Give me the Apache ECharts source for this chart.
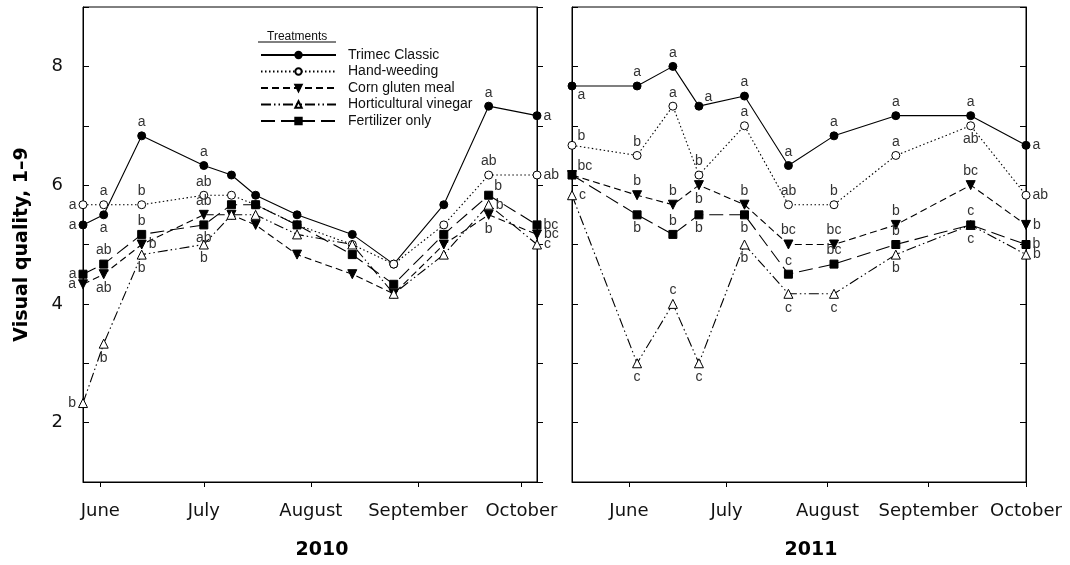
<!DOCTYPE html>
<html>
<head>
<meta charset="utf-8">
<script src="https://cdn.jsdelivr.net/npm/echarts@6/dist/echarts.min.js"></script>
<style>html,body{margin:0;padding:0;background:#fff;}#chart{width:1070px;height:565px;}</style>
</head>
<body>
<div id="chart"></div>
<script>
// ---------- data ----------
const treatments = ['Trimec Classic', 'Hand-weeding', 'Corn gluten meal', 'Horticultural vinegar', 'Fertilizer only'];
const monthTicks = [152, 182, 213, 244, 274];           // day-of-year of month starts
const monthLabels = ['June', 'July', 'August', 'September', 'October'];
const yearLabels = ['2010', '2011'];

const days2010 = [147, 153, 164, 182, 190, 197, 209, 225, 237, 251.5, 264.5, 278.5];
const trimec2010 = [5.33, 5.5, 6.83, 6.33, 6.17, 5.83, 5.5, 5.17, 4.67, 5.67, 7.33, 7.17];
const hand2010 = [5.67, 5.67, 5.67, 5.83, 5.83, 5.67, 5.33, 5.0, 4.67, 5.33, 6.17, 6.17];
const corn2010 = [4.33, 4.5, 5.0, 5.5, 5.5, 5.33, 4.83, 4.5, 4.17, 5.0, 5.5, 5.17];
const vinegar2010 = [2.33, 3.33, 4.83, 5.0, 5.5, 5.5, 5.17, 5.0, 4.17, 4.83, 5.67, 5.0];
const fert2010 = [4.5, 4.67, 5.17, 5.33, 5.67, 5.67, 5.33, 4.83, 4.33, 5.17, 5.83, 5.33];

const days2011 = [134.5, 154.5, 165.5, 173.5, 187.5, 201, 215, 234, 257, 274];
const trimec2011 = [7.67, 7.67, 8.0, 7.33, 7.5, 6.33, 6.83, 7.17, 7.17, 6.67];
const hand2011 = [6.67, 6.5, 7.33, 6.17, 7.0, 5.67, 5.67, 6.5, 7.0, 5.83];
const corn2011 = [6.17, 5.83, 5.67, 6.0, 5.67, 5.0, 5.0, 5.33, 6.0, 5.33];
const vinegar2011 = [5.83, 3.0, 4.0, 3.0, 5.0, 4.17, 4.17, 4.83, 5.33, 4.83];
const fert2011 = [6.17, 5.5, 5.17, 5.5, 5.5, 4.5, 4.67, 5.0, 5.33, 5.0];

// significance letters
const trimecLet2010 = ['a', 'a', 'a', 'a', '', '', '', '', '', '', 'a', 'a'];
const handLet2010 = ['a', 'a', 'b', 'ab', '', '', '', '', '', '', 'ab', 'ab'];
const cornLet2010 = ['a', 'ab', 'b', 'ab', '', '', '', '', '', '', 'b', 'bc'];
const vinegarLet2010 = ['b', 'b', 'b', 'b', '', '', '', '', '', '', 'b', 'c'];
const fertLet2010 = ['a', 'ab', 'b', 'ab', '', '', '', '', '', '', 'b', 'bc'];

const trimecLet2011 = ['a', 'a', 'a', 'a', 'a', 'a', 'a', 'a', 'a', 'a'];
const handLet2011 = ['b', 'b', 'a', 'b', 'a', 'ab', 'b', 'a', 'ab', 'ab'];
const cornLet2011 = ['', 'b', 'b', 'b', 'b', 'bc', 'bc', 'b', 'bc', 'b'];
const vinegarLet2011 = ['c', 'c', 'c', 'c', 'b', 'c', 'c', 'b', 'c', 'b'];
const fertLet2011 = ['bc', 'b', 'b', 'b', 'b', 'c', 'bc', 'b', 'c', 'b'];

// letter placement (layout, kept apart from values)
const trimecPos2010 = ['left', 'bottom', 'top', 'top', '', '', '', '', '', '', 'top', 'right'];
const handPos2010 = ['left', 'top', 'top', 'top', '', '', '', '', '', '', 'top', 'right'];
const cornPos2010 = ['left', 'bottom', 'right', 'top', '', '', '', '', '', '', 'bottom', 'right'];
const vinegarPos2010 = ['left', 'bottom', 'bottom', 'bottom', '', '', '', '', '', '', 'right', 'right'];
const fertPos2010 = ['left', 'top', 'top', 'bottom', '', '', '', '', '', '', 'tr', 'right'];

const trimecPos2011 = ['br', 'top', 'top', 'tr', 'top', 'top', 'top', 'top', 'top', 'right'];
const handPos2011 = ['tr', 'top', 'top', 'top', 'top', 'top', 'top', 'top', 'bottom', 'right'];
const cornPos2011 = ['', 'top', 'top', 'bottom', 'top', 'top', 'top', 'top', 'top', 'right'];
const vinegarPos2011 = ['right', 'bottom', 'top', 'bottom', 'bottom', 'bottom', 'bottom', 'bottom', 'bottom', 'right'];
const fertPos2011 = ['tr', 'bottom', 'top', 'bottom', 'bottom', 'top', 'top', 'top', 'top', 'right'];

// ---------- styles ----------
const styles = [
  { symbol: 'circle', size: 8, fill: '#000', dash: 'solid', rot: 0 },
  { symbol: 'circle', size: 8, fill: '#fff', dash: [1.5, 2.5], rot: 0 },
  { symbol: 'triangle', size: 9, fill: '#000', dash: [7, 4], rot: 180 },
  { symbol: 'triangle', size: 9, fill: '#fff', dash: [10, 3, 1.5, 3, 1.5, 3], rot: 0 },
  { symbol: 'rect', size: 8, fill: '#000', dash: [14, 6], rot: 0 }
];

const letterFont = { fontFamily: 'Liberation Sans, Arial, sans-serif', fontSize: 14, color: '#333' };

function labelFor(letter, pos) {
  if (!letter) return { show: false };
  const base = Object.assign({ show: true, formatter: letter }, letterFont);
  if (pos === 'tr') return Object.assign(base, { position: 'right', distance: 1, offset: [0, -9] });
  if (pos === 'br') return Object.assign(base, { position: 'right', distance: 1, offset: [0, 9] });
  return Object.assign(base, { position: pos, distance: 2 });
}

function makeSeries(idx, gridIdx, days, vals, letters, pos) {
  const st = styles[idx];
  return {
    name: treatments[idx],
    type: 'line',
    xAxisIndex: gridIdx,
    yAxisIndex: gridIdx * 2,
    symbol: st.symbol,
    symbolSize: st.size,
    symbolRotate: st.rot,
    showAllSymbol: true,
    animation: false,
    z: 2 + idx,
    lineStyle: { color: '#000', width: 1.1, type: st.dash },
    itemStyle: { color: st.fill, borderColor: '#000', borderWidth: 1 },
    emphasis: { disabled: true },
    data: days.map((d, i) => ({ value: [d, vals[i]], label: labelFor(letters[i], pos[i]) }))
  };
}

const tickFont = { fontFamily: 'DejaVu Sans, sans-serif', fontSize: 18, color: '#111' };

function xAxisFor(gridIdx, min, max) {
  return {
    type: 'value', gridIndex: gridIdx, min: min, max: max,
    name: yearLabels[gridIdx], nameLocation: 'middle', nameGap: 59,
    nameTextStyle: { fontFamily: 'DejaVu Sans, sans-serif', fontSize: 19, fontWeight: 'bold', color: '#000', padding: [0, 0, 0, 24] },
    axisLine: { show: true, lineStyle: { color: '#000', width: 1 } },
    axisTick: { show: true, inside: false, length: 5, customValues: monthTicks, lineStyle: { color: '#000' } },
    axisLabel: Object.assign({ customValues: monthTicks, margin: 20,
      formatter: v => monthLabels[monthTicks.indexOf(Math.round(v))] || '' }, tickFont),
    splitLine: { show: false }
  };
}

function yAxisFor(gridIdx, position, labels, inside) {
  const ax = {
    type: 'value', gridIndex: gridIdx, position: position, min: 1, max: 9, interval: 1,
    axisLine: { show: true, onZero: false, lineStyle: { color: '#000', width: 1 } },
    axisTick: { show: true, inside: inside, length: 6, lineStyle: { color: '#000' } },
    axisLabel: Object.assign({ show: labels, margin: 20, formatter: v => (v % 2 === 0 ? String(v) : '') }, tickFont),
    splitLine: { show: false }
  };
  if (labels) {
    ax.name = 'Visual quality, 1\u20139';
    ax.nameLocation = 'middle';
    ax.nameGap = 51;
    ax.nameTextStyle = { fontFamily: 'DejaVu Sans, sans-serif', fontSize: 19, fontWeight: 'bold', color: '#000' };
  }
  return ax;
}

const series = [
  makeSeries(0, 0, days2010, trimec2010, trimecLet2010, trimecPos2010),
  makeSeries(1, 0, days2010, hand2010, handLet2010, handPos2010),
  makeSeries(2, 0, days2010, corn2010, cornLet2010, cornPos2010),
  makeSeries(3, 0, days2010, vinegar2010, vinegarLet2010, vinegarPos2010),
  makeSeries(4, 0, days2010, fert2010, fertLet2010, fertPos2010),
  makeSeries(0, 1, days2011, trimec2011, trimecLet2011, trimecPos2011),
  makeSeries(1, 1, days2011, hand2011, handLet2011, handPos2011),
  makeSeries(2, 1, days2011, corn2011, cornLet2011, cornPos2011),
  makeSeries(3, 1, days2011, vinegar2011, vinegarLet2011, vinegarPos2011),
  makeSeries(4, 1, days2011, fert2011, fertLet2011, fertPos2011)
];

const chart = echarts.init(document.getElementById('chart'), null, { renderer: 'canvas' });
chart.setOption({
  backgroundColor: '#fff',
  animation: false,
  grid: [
    { left: 83, top: 7, width: 454, height: 477, show: true, borderColor: '#000', borderWidth: 1, backgroundColor: 'transparent' },
    { left: 572, top: 7, width: 454, height: 477, show: true, borderColor: '#000', borderWidth: 1, backgroundColor: 'transparent' }
  ],
  xAxis: [xAxisFor(0, 147, 278.5), xAxisFor(1, 134.5, 274)],
  yAxis: [
    yAxisFor(0, 'left', true, true),
    yAxisFor(0, 'right', false, false),
    yAxisFor(1, 'left', false, true),
    yAxisFor(1, 'right', false, true)
  ],
  title: {
    text: 'Treatments', left: 262, top: 26,
    textStyle: { fontFamily: 'Liberation Sans, Arial, sans-serif', fontSize: 12, fontWeight: 'normal', color: '#111' }
  },
  graphic: [
    { type: 'line', shape: { x1: 258, y1: 42, x2: 336, y2: 42 }, style: { stroke: '#000', lineWidth: 1 } }
  ],
  legend: {
    data: treatments, orient: 'vertical', left: 255, top: 43,
    itemWidth: 75, itemHeight: 8, itemGap: 2.5,
    selectedMode: false,
    textStyle: { fontFamily: 'Liberation Sans, Arial, sans-serif', fontSize: 14, color: '#111', lineHeight: 14, padding: [0, 0, 0, 7] }
  },
  series: series
});
</script>
</body>
</html>
